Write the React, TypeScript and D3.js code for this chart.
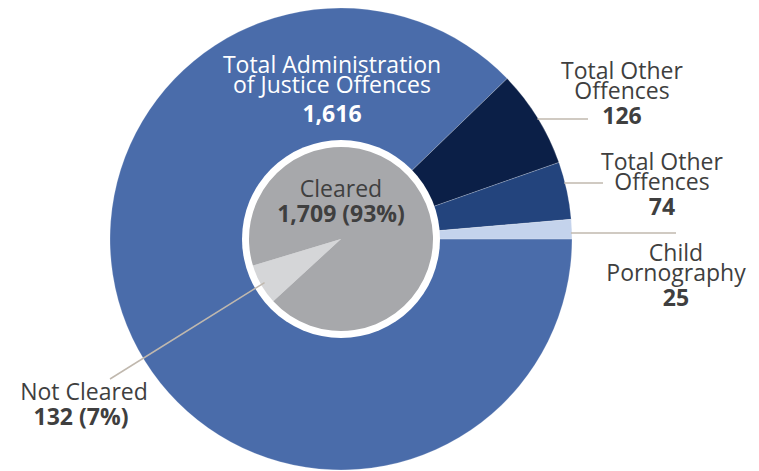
import React from "react";
import * as d3 from "d3";

// ---- Data ----
const outerCategories = [
  "Total Administration of Justice Offences",
  "Total Other Offences (A)",
  "Total Other Offences (B)",
  "Child Pornography",
];
const outerValues = [1616, 126, 74, 25];
const outerColors = ["#4a6caa", "#0b1f47", "#23447d", "#c4d3ec"];

const innerCategories = ["Not Cleared", "Cleared"];
const innerValues = [132, 1709];
const innerPercents = ["7%", "93%"];
const innerColors = ["#d5d6d8", "#a7a8ab"];

// ---- Layout ----
const W = 759;
const H = 471;
const CX = 341;
const CY = 239;
const R_OUTER = 231;
const R_RING = 99;
const R_INNER = 92;
const FONT = "'Open Sans', 'Noto Sans', sans-serif";
const TEXT = "#3f3f3f";
const LEADER = "#c0b8ae";
const FS = 23;

// Right-hand labels for the small outer slices
const rightLabels = [
  { idx: 1, cx: 622, lineY: 119, lineEnd: 588, base: 79, lines: ["Total Other", "Offences"] },
  { idx: 2, cx: 662, lineY: 183, lineEnd: 603, base: 170, lines: ["Total Other", "Offences"] },
  { idx: 3, cx: 676, lineY: 233, lineEnd: 676, base: 261, lines: ["Child", "Pornography"] },
];

const fmt = d3.format(",");

export default function App() {
  const outerPie = d3
    .pie<number>()
    .sort(null)
    .startAngle(Math.PI / 2)
    .endAngle(Math.PI / 2 + 2 * Math.PI);
  const outerArcs = outerPie(outerValues);
  const outerArc = d3.arc<d3.PieArcDatum<number>>().innerRadius(0).outerRadius(R_OUTER);

  const startInner = (227.4 * Math.PI) / 180;
  const innerPie = d3
    .pie<number>()
    .sort(null)
    .startAngle(startInner)
    .endAngle(startInner + 2 * Math.PI);
  const innerArcs = innerPie(innerValues);
  const innerArc = d3.arc<d3.PieArcDatum<number>>().innerRadius(0).outerRadius(R_INNER);

  const nc = innerArcs[0];
  const ncMid = (nc.startAngle + nc.endAngle) / 2;
  const ncX = CX + Math.sin(ncMid) * 88;
  const ncY = CY - Math.cos(ncMid) * 88;

  return (
    <svg width={W} height={H} style={{ position: "absolute", left: 0, top: 0 }} fontFamily={FONT}>
      <rect width={W} height={H} fill="#ffffff" />
      <g transform={`translate(${CX},${CY})`}>
        {outerArcs.map((a, i) => (
          <path key={i} d={outerArc(a) || ""} fill={outerColors[i]} stroke="#ffffff" strokeOpacity={0.35} strokeWidth={0.6} />
        ))}
        <circle r={R_RING} fill="#ffffff" />
        {innerArcs.map((a, i) => (
          <path key={i} d={innerArc(a) || ""} fill={innerColors[i]} />
        ))}
      </g>

      {rightLabels.map((l, k) => {
        const x0 = CX + Math.sqrt(R_OUTER * R_OUTER - (l.lineY - CY) * (l.lineY - CY)) - 1;
        return <line key={k} x1={x0} y1={l.lineY} x2={l.lineEnd} y2={l.lineY} stroke={LEADER} strokeWidth={1.5} />;
      })}
      <line x1={ncX} y1={ncY} x2={110} y2={379} stroke={LEADER} strokeWidth={1.5} />

      <g fill="#ffffff" textAnchor="middle" fontSize={FS}>
        <text x={332} y={73}>Total Administration</text>
        <text x={332} y={93}>of Justice Offences</text>
        <text x={332} y={122} fontWeight="bold">{fmt(outerValues[0])}</text>
      </g>

      {rightLabels.map((l, k) => (
        <g key={k} fill={TEXT} textAnchor="middle" fontSize={FS}>
          <text x={l.cx} y={l.base}>{l.lines[0]}</text>
          <text x={l.cx} y={l.base + 20}>{l.lines[1]}</text>
          <text x={l.cx} y={l.base + 45} fontWeight="bold">{fmt(outerValues[l.idx])}</text>
        </g>
      ))}

      <g fill={TEXT} textAnchor="middle" fontSize={FS}>
        <text x={341} y={197}>{innerCategories[1]}</text>
        <text x={341} y={222} fontWeight="bold">{`${fmt(innerValues[1])} (${innerPercents[1]})`}</text>
        <text x={84} y={400}>{innerCategories[0]}</text>
        <text x={81} y={425} fontWeight="bold">{`${fmt(innerValues[0])} (${innerPercents[0]})`}</text>
      </g>
    </svg>
  );
}
